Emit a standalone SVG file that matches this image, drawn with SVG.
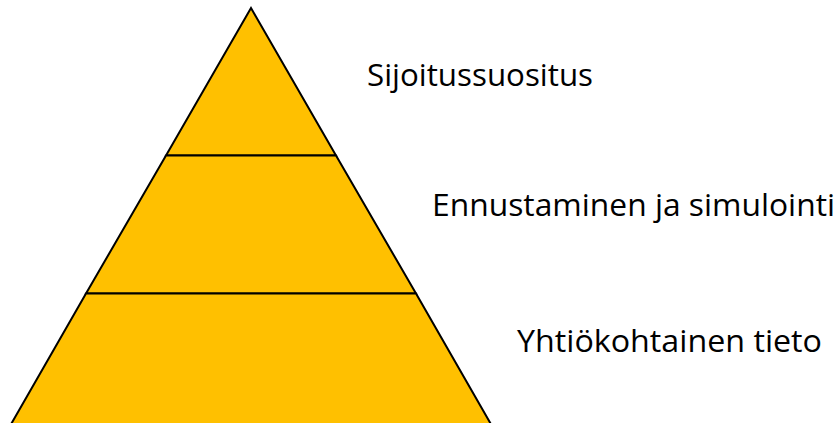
<svg xmlns="http://www.w3.org/2000/svg" width="840" height="423" viewBox="0 0 840 423">
<style>
.lvl{fill:#FFC000;stroke:#000;stroke-width:2;stroke-linejoin:miter}
.lbl{font-family:"Open Sans","Liberation Sans",sans-serif;font-size:31px;fill:#000}
</style>
<rect width="840" height="423" fill="#fff"/>
<g id="pyramid">
<g id="level-top"><polygon class="lvl" points="251,8 336,155.5 166,155.5"/></g>
<g id="level-middle"><polygon class="lvl" points="166,155.5 336,155.5 416,293.5 86,293.5"/></g>
<g id="level-bottom"><polygon class="lvl" points="86,293.5 416,293.5 492,426 10,426"/></g>
</g>
<g id="labels">
<text id="t1" class="lbl" x="367" y="86" textLength="226" lengthAdjust="spacingAndGlyphs">Sijoitussuositus</text>
<text id="t2" class="lbl" x="432" y="216" textLength="403" lengthAdjust="spacingAndGlyphs">Ennustaminen ja simulointi</text>
<text id="t3" class="lbl" x="517" y="352" textLength="305" lengthAdjust="spacingAndGlyphs">Yhtiökohtainen tieto</text>
</g>
<g id="connectors"></g>
</svg>
